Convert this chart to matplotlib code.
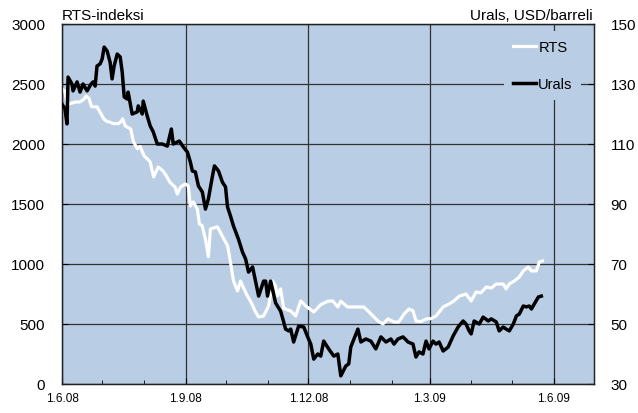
import matplotlib
matplotlib.use('Agg')
import matplotlib.pyplot as plt
import matplotlib.dates as mdates
from matplotlib.ticker import FuncFormatter
import pandas as pd

plt.rcParams['font.family'] = ['Liberation Sans', 'DejaVu Sans']

alku = pd.Timestamp('2008-06-01')

# päiviä 1.6.08 jälkeen, luettu kuvasta
rts_paiva = [0, 2, 4, 7, 10, 13, 16, 18, 20, 22, 26, 28, 31, 33, 36, 38, 42, 44, 45, 47,
             51, 53, 56, 58, 61, 63, 65.5, 68, 71.5, 75, 78, 80, 84, 85.6, 88, 91.6, 93.8,
             95.3, 97.5, 100.5, 102, 104, 106.5, 108.7, 110.2, 115.4, 119, 123, 125, 127.3,
             130.3, 132.5, 134.8, 137.8, 140, 143.7, 146, 149.7, 153.4, 156.4, 158.6, 160,
             162.3, 164.6, 169.8, 173.5, 177.2, 181, 187, 192, 197.3, 201, 204.8, 207, 212,
             224, 228, 234.6, 238.3, 242, 246.5, 250, 254, 257.6, 260.6, 262.8, 266.6, 270.3,
             274, 277.7, 283, 287.4, 291, 295, 300, 303.8, 307.5, 311, 315, 318.7, 322.4,
             327.6, 329.8, 332, 335.8, 339.5, 342.5, 346.2, 348.5, 352.2, 354.4, 356.7]
rts_arvo = [2460, 2440, 2330, 2340, 2350, 2350, 2370, 2400, 2380, 2310, 2310, 2270, 2210,
            2190, 2180, 2170, 2170, 2190, 2210, 2150, 2125, 2020, 1960, 1980, 1900, 1880,
            1850, 1725, 1808, 1775, 1725, 1683, 1640, 1583, 1642, 1667, 1650, 1483, 1517,
            1458, 1333, 1320, 1208, 1060, 1292, 1310, 1233, 1150, 1020, 860, 775, 858, 800,
            730, 690, 600, 558, 567, 650, 858, 817, 733, 792, 630, 608, 567, 692, 650, 600,
            660, 690, 692, 642, 690, 642, 642, 600, 525, 500, 542, 517, 517, 583, 625, 610,
            525, 520, 542, 545, 567, 642, 667, 692, 733, 750, 692, 767, 760, 808, 800, 833,
            833, 792, 833, 858, 892, 942, 975, 942, 942, 1017, 1025]

urals_paiva = [0, 2.2, 3.7, 4.5, 7.4, 8.2, 11.2, 13.4, 15.6, 18.6, 21.6, 23.1, 24.6, 26,
               28.3, 29.8, 31.3, 33.5, 35.7, 37.2, 38.7, 41, 43.2, 44.7, 46.2, 48.4, 49.1,
               52.1, 55.8, 56.6, 59.6, 60.3, 63.3, 65.5, 67.8, 70.7, 74.5, 78.2, 81.2, 82.6,
               87.1, 90.1, 93.1, 95.3, 96.8, 99, 101.3, 104.2, 106.5, 108.7, 111.7, 113.2,
               116.2, 119.1, 121.4, 122.9, 125.1, 127.3, 131, 134, 136.3, 138.5, 141.5, 143.7,
               146, 149.7, 151.2, 152.6, 154.9, 158.6, 162.3, 164.6, 166, 168.3, 169.8, 172,
               175.7, 179.5, 182.4, 184.7, 186.9, 189.9, 192.1, 194.3, 198, 201.8, 204.8, 207,
               210.7, 212.9, 214.4, 219.7, 221.9, 225.6, 229.3, 233, 236.8, 240.5, 244.2,
               246.5, 249.4, 253.2, 256.9, 260.6, 262.8, 265.1, 268, 270.3, 272.5, 275.5,
               277.7, 280, 283, 286.7, 290.4, 294.1, 297.8, 300, 302.3, 303.8, 306, 309.8,
               312.7, 316.5, 318.7, 322.4, 324.6, 327.6, 329.8, 332.1, 335.1, 337.4, 339.5,
               342.5, 344.8, 347, 348.5, 350.7, 353.7, 355.9]
urals_arvo = [123.3, 121.7, 116.7, 132.3, 130, 127.7, 130.7, 127.3, 130, 127.7, 130, 130.7,
              129.3, 136, 136.7, 138.3, 142.3, 141, 137.3, 131.7, 136, 140, 139, 134, 125.7,
              125, 127.3, 120, 120.7, 122.7, 120, 124.3, 119.3, 116, 114, 110, 110, 109.3,
              115, 110, 111, 109, 107.3, 104, 101, 100.7, 96, 94, 88.3, 91.7, 99.3, 102.7,
              101, 97.3, 95.7, 89, 86, 82.7, 78.3, 74, 71.7, 67.3, 69, 64.3, 59.3, 64.3,
              64.3, 59.3, 64.3, 57, 54.3, 50.7, 48.3, 47.7, 48.3, 44, 49.3, 49, 45.7, 43.3,
              38.3, 40, 39.3, 44.3, 41.7, 39.3, 40, 32.7, 36, 36.7, 42.3, 48.3, 44, 45, 44.3,
              41.7, 45.7, 44, 45, 43.3, 45, 45.7, 44, 43.3, 39, 40.7, 40, 44.3, 41.7, 44.3,
              43.3, 44, 41, 42.3, 46, 49, 51, 50, 47.7, 46.7, 51, 50, 52.3, 51, 51.7, 50.7,
              47.7, 49, 48.3, 47.7, 50, 52.7, 53.3, 56, 55.7, 56, 55, 56.7, 59, 59.3]

rts_pvm = alku + pd.to_timedelta(rts_paiva, unit='D')
urals_pvm = alku + pd.to_timedelta(urals_paiva, unit='D')

tausta = '#b9cde5'

fig = plt.figure(figsize=(6.38, 4.14), dpi=100)
ax = fig.add_axes([62/638, 1 - 385/414, (594 - 62)/638, (385 - 25)/414])
ax.set_facecolor(tausta)
ax2 = ax.twinx()

l1, = ax.plot(rts_pvm, rts_arvo, color='white', lw=2.3, label='RTS', zorder=3)
l2, = ax2.plot(urals_pvm, urals_arvo, color='black', lw=2.5, label='Urals', zorder=3)

ax.set_xlim(pd.Timestamp('2008-06-01'), pd.Timestamp('2009-07-01'))
ax.set_ylim(0, 3000)
ax.set_yticks(range(0, 3001, 500))
ax2.set_ylim(30, 150)
ax2.set_yticks(range(30, 151, 20))

ax.xaxis.set_major_locator(mdates.MonthLocator(bymonth=[3, 6, 9, 12]))
ax.xaxis.set_minor_locator(mdates.MonthLocator())
ax.xaxis.set_major_formatter(FuncFormatter(
    lambda v, p: (lambda d: f"{d.day}.{d.month}.{d.strftime('%y')}")(mdates.num2date(v))))

ax.grid(True, which='major', color='#333333', lw=0.9)
ax.set_axisbelow(True)

ax.tick_params(axis='x', which='both', direction='in', labelsize=8.5, pad=6)
ax.tick_params(axis='x', which='minor', length=3)
ax.tick_params(axis='x', which='major', length=4)
ax.tick_params(axis='y', direction='in', length=4, labelsize=11, pad=12)
ax2.tick_params(axis='y', direction='in', length=4, labelsize=11, pad=12)

for a in (ax, ax2):
    for s in a.spines.values():
        s.set_color('#222222')
        s.set_linewidth(0.9)

fig.text(62/638, 1 - 20/414, 'RTS-indeksi', fontsize=11, ha='left', va='baseline')
fig.text(593/638, 1 - 20/414, 'Urals, USD/barreli', fontsize=11, ha='right', va='baseline')

leg = ax2.legend(handles=[l1, l2], loc='upper right', bbox_to_anchor=(0.99, 1.0),
                 fontsize=10.5, frameon=True, facecolor=tausta, edgecolor='none',
                 framealpha=1, fancybox=False, handlelength=1.6, handletextpad=0.15,
                 labelspacing=1.6, borderpad=0.6)

fig.savefig('out.png', dpi=100)
